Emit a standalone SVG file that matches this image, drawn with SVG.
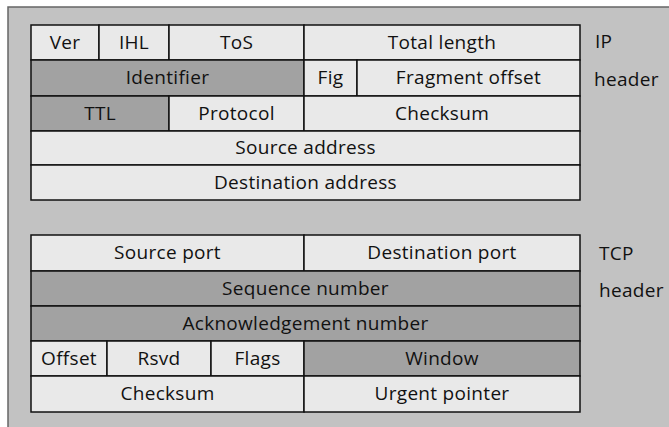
<svg xmlns="http://www.w3.org/2000/svg" width="669" height="427" viewBox="0 0 669 427">
<style>
.lt{fill:#e9e9e9;stroke:#111;stroke-width:1.5}
.dk{fill:#a2a2a2;stroke:#111;stroke-width:1.5}
text{font-family:"Open Sans","Noto Sans",sans-serif;font-size:19px;letter-spacing:0.3px;fill:#111}
.c{text-anchor:middle}
</style>
<rect x="0" y="0" width="669" height="427" fill="#ffffff"/>
<rect x="8" y="7" width="670" height="430" fill="#c2c2c2" stroke="#666" stroke-width="1.5"/>
<g id="ip">
<g id="ver"><rect class="lt" x="31" y="25" width="68" height="35"/><text class="c" x="65" y="49">Ver</text></g>
<g id="ihl"><rect class="lt" x="99" y="25" width="70" height="35"/><text class="c" x="134" y="49">IHL</text></g>
<g id="tos"><rect class="lt" x="169" y="25" width="135" height="35"/><text class="c" x="236.5" y="49">ToS</text></g>
<g id="totlen"><rect class="lt" x="304" y="25" width="276" height="35"/><text class="c" x="442" y="49">Total length</text></g>
<g id="ident"><rect class="dk" x="31" y="60" width="273" height="36"/><text class="c" x="167.5" y="84">Identifier</text></g>
<g id="fig"><rect class="lt" x="304" y="60" width="53" height="36"/><text class="c" x="330.5" y="84">Fig</text></g>
<g id="fragoff"><rect class="lt" x="357" y="60" width="223" height="36"/><text class="c" x="468.5" y="84">Fragment offset</text></g>
<g id="ttl"><rect class="dk" x="31" y="96" width="138" height="35"/><text class="c" x="100" y="120">TTL</text></g>
<g id="proto"><rect class="lt" x="169" y="96" width="135" height="35"/><text class="c" x="236.5" y="120">Protocol</text></g>
<g id="ipcsum"><rect class="lt" x="304" y="96" width="276" height="35"/><text class="c" x="442" y="120">Checksum</text></g>
<g id="srcaddr"><rect class="lt" x="31" y="131" width="549" height="34"/><text class="c" x="305.5" y="154">Source address</text></g>
<g id="dstaddr"><rect class="lt" x="31" y="165" width="549" height="35"/><text class="c" x="305.5" y="189">Destination address</text></g>
<g id="iplabel"><text x="595" y="48">IP</text><text x="594" y="86">header</text></g>
</g>
<g id="tcp">
<g id="srcport"><rect class="lt" x="31" y="235" width="273" height="36"/><text class="c" x="167.5" y="259">Source port</text></g>
<g id="dstport"><rect class="lt" x="304" y="235" width="276" height="36"/><text class="c" x="442" y="259">Destination port</text></g>
<g id="seq"><rect class="dk" x="31" y="271" width="549" height="35"/><text class="c" x="305.5" y="295">Sequence number</text></g>
<g id="ack"><rect class="dk" x="31" y="306" width="549" height="35"/><text class="c" x="305.5" y="330">Acknowledgement number</text></g>
<g id="offset"><rect class="lt" x="31" y="341" width="76" height="35"/><text class="c" x="69" y="365">Offset</text></g>
<g id="rsvd"><rect class="lt" x="107" y="341" width="104" height="35"/><text class="c" x="159" y="365">Rsvd</text></g>
<g id="flags"><rect class="lt" x="211" y="341" width="93" height="35"/><text class="c" x="257.5" y="365">Flags</text></g>
<g id="window"><rect class="dk" x="304" y="341" width="276" height="35"/><text class="c" x="442" y="365">Window</text></g>
<g id="tcpcsum"><rect class="lt" x="31" y="376" width="273" height="36"/><text class="c" x="167.5" y="400">Checksum</text></g>
<g id="urg"><rect class="lt" x="304" y="376" width="276" height="36"/><text class="c" x="442" y="400">Urgent pointer</text></g>
<g id="tcplabel"><text x="599" y="260">TCP</text><text x="599" y="297">header</text></g>
</g>
<g id="connectors"></g>
</svg>
